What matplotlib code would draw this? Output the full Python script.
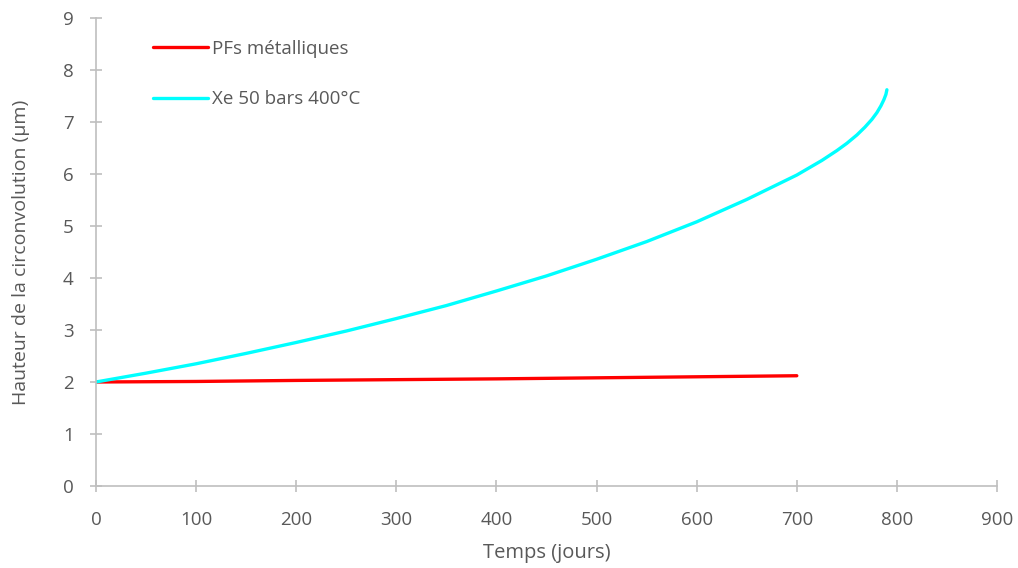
import matplotlib
matplotlib.use('Agg')
import matplotlib.pyplot as plt

plt.rcParams['font.family'] = ['Open Sans', 'DejaVu Sans']

# data
t_pf = [0, 100, 200, 300, 400, 500, 600, 700]
h_pf = [2.0, 2.01, 2.03, 2.045, 2.06, 2.08, 2.10, 2.12]

t_xe = [0, 50, 100, 150, 200, 250, 300, 350, 400, 450, 500, 550, 600, 650,
        700, 725, 740, 750, 760, 768, 775, 780, 784, 787, 789, 790]
h_xe = [2.0, 2.17, 2.35, 2.55, 2.76, 2.98, 3.22, 3.47, 3.75, 4.04, 4.36, 4.70,
        5.08, 5.51, 5.98, 6.26, 6.45, 6.59, 6.75, 6.90, 7.05, 7.18, 7.31, 7.43, 7.53, 7.62]

grey = '#bfbfbf'
txt = '#595959'

fig = plt.figure(figsize=(10.18, 5.68), dpi=100)
ax = fig.add_axes([0.0943, 0.1444, 0.8851, 0.8239])

ax.plot(t_pf, h_pf, color='#ff0000', lw=2.4, label='PFs métalliques', solid_capstyle='round')
ax.plot(t_xe, h_xe, color='#00ffff', lw=2.4, label='Xe 50 bars 400°C', solid_capstyle='round')

ax.set_xlim(0, 900)
ax.set_ylim(0, 9)
ax.set_xticks(range(0, 901, 100))
ax.set_yticks(range(0, 10))

for s in ['top', 'right']:
    ax.spines[s].set_visible(False)
for s in ['left', 'bottom']:
    ax.spines[s].set_color(grey)
    ax.spines[s].set_linewidth(1.2)

ax.tick_params(direction='inout', length=8, width=1.2, color=grey,
               labelcolor=txt, labelsize=13.5)
ax.tick_params(axis='x', pad=14)
ax.tick_params(axis='y', pad=12)

ax.set_xlabel('Temps (jours)', fontsize=14.5, color=txt, labelpad=10)
ax.set_ylabel('Hauteur de la circonvolution (µm)', fontsize=14, color=txt, labelpad=24)

ax.legend(frameon=False, loc='upper left', bbox_to_anchor=(0.045, 0.99),
          handlelength=2.9, handletextpad=0.25, labelspacing=1.75,
          fontsize=13.5, labelcolor=txt)

fig.savefig('out.png', dpi=100)
